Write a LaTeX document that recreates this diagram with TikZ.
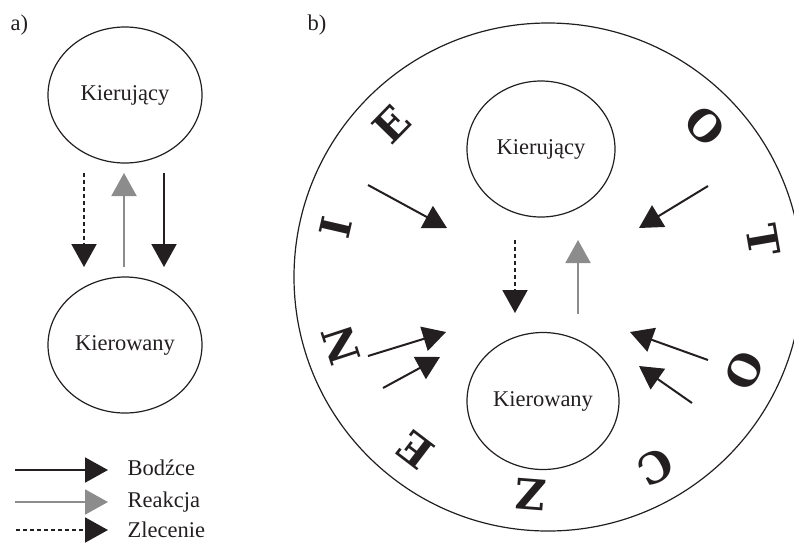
\documentclass[tikz,border=0pt]{standalone}
\usepackage{fontspec}
\setmainfont{Liberation Serif}
\newfontfamily\letterfont{DejaVu Serif}
\usetikzlibrary{arrows.meta,shapes.geometric}
\definecolor{ink}{HTML}{231F20}
\definecolor{greyarrow}{HTML}{8C8C8C}
\begin{document}
\begin{tikzpicture}[x=1pt,y=-1pt,
  every node/.style={font=\fontsize{22.5}{27}\selectfont, text=ink},
  bubble/.style={draw=ink, line width=1.2pt, ellipse, inner sep=0pt},
  tipstyle/.style={-{Triangle[length=23pt,width=25pt]}},
  bodz/.style={tipstyle, draw=ink, line width=2pt},
  reak/.style={tipstyle, draw=greyarrow, line width=2pt},
  zlec/.style={tipstyle, draw=ink, line width=2pt, dash pattern=on 4pt off 3pt},
  bigletter/.style={font=\letterfont\bfseries\fontsize{42}{42}\selectfont, inner sep=0pt, text=ink}]
\useasboundingbox (0,0) rectangle (794,542);
\clip (0,0) rectangle (794,542);

% labels
\node[anchor=base west] (la) at (7,30) {a)};
\node[anchor=base west] (lb) at (304,30) {b)};

% panel a
\node[bubble, minimum width=154pt, minimum height=136pt] (a1) at (125,95) {Kierujący};
\node[bubble, minimum width=154pt, minimum height=136pt] (a2) at (125,345) {Kierowany};
\coordinate (a3s) at (84,173);  \coordinate (a3e) at (84,267);
\coordinate (a4s) at (124,267); \coordinate (a4e) at (124,173);
\coordinate (a5s) at (164,173); \coordinate (a5e) at (164,267);
\draw[zlec] (a3s) -- (a3e);
\draw[reak] (a4s) -- (a4e);
\draw[bodz] (a5s) -- (a5e);

% panel b
\node[circle, draw=ink, line width=1.2pt, minimum size=508pt, inner sep=0pt] (env) at (548,277) {};
\node[bubble, minimum width=148pt, minimum height=136pt] (b1) at (541,149) {Kierujący};
\node[bubble, minimum width=152pt, minimum height=137pt] (b2) at (543,401) {Kierowany};
\coordinate (b3s) at (515,240); \coordinate (b3e) at (515,313);
\coordinate (b4s) at (578,314); \coordinate (b4e) at (578,240);
\draw[zlec] (b3s) -- (b3e);
\draw[reak] (b4s) -- (b4e);

\coordinate (s1) at (368,185); \coordinate (e1) at (447,228);
\coordinate (s2) at (708,186); \coordinate (e2) at (639,228);
\coordinate (s3) at (368,356); \coordinate (e3) at (446,332);
\coordinate (s4) at (383,388); \coordinate (e4) at (440,357);
\coordinate (s5) at (708,360); \coordinate (e5) at (630,332);
\coordinate (s6) at (692,403); \coordinate (e6) at (639,366);
\foreach \i in {1,...,6} \draw[bodz] (s\i) -- (e\i);

% OTOCZENIE around the circle
\foreach \ch/\ang [count=\k] in {O/44, T/9.8, O/-25.5, C/-60.6, Z/-94.5, E/-127.3, N/-161.9, I/-193, E/-224.3}
  \node[bigletter, rotate=\ang-90] (L\k) at ({548+218*cos(\ang)},{277-218*sin(\ang)}) {\ch};

% legend
\coordinate (g1s) at (15,470); \coordinate (g1e) at (108,470);
\coordinate (g2s) at (15,502); \coordinate (g2e) at (108,502);
\coordinate (g3s) at (16,530); \coordinate (g3e) at (108,530);
\draw[bodz] (g1s) -- (g1e);
\draw[reak] (g2s) -- (g2e);
\draw[zlec] (g3s) -- (g3e);
\node[anchor=base west] (t1) at (124,475) {Bodźce};
\node[anchor=base west] (t2) at (124,507) {Reakcja};
\node[anchor=base west] (t3) at (124,537) {Zlecenie};
\end{tikzpicture}
\end{document}
